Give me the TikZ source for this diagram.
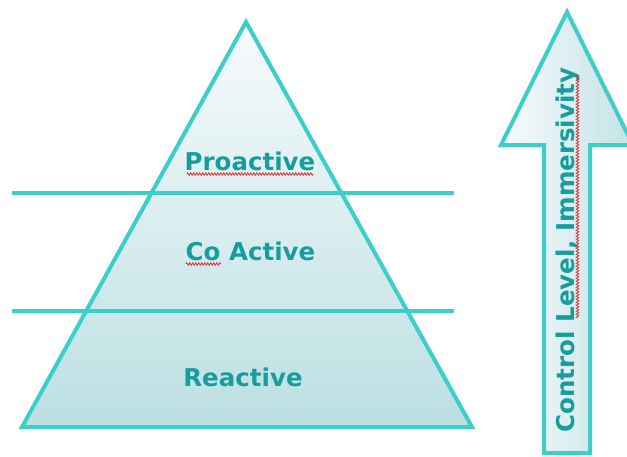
\documentclass[tikz,border=0pt]{standalone}
\usepackage{fontspec}
\setmainfont{DejaVu Sans}
\usetikzlibrary{decorations.pathmorphing}
\definecolor{stroke}{HTML}{3CCEC8}
\definecolor{txt}{HTML}{169E9E}
\definecolor{filltop}{HTML}{F7FBFC}
\definecolor{fillbot}{HTML}{BCDFE2}
\definecolor{arrowright}{HTML}{C4E2E5}
\definecolor{squig}{HTML}{E8302E}
\tikzset{
  shapeline/.style={draw=stroke, line width=4pt, line join=miter},
  lbl/.style={text=txt, font=\bfseries\fontsize{24.5}{28}\selectfont, inner sep=0pt, anchor=base},
  squiggle/.style={draw=squig, line width=0.8pt, decorate, decoration={zigzag, amplitude=1.3pt, segment length=3pt}}
}
\begin{document}
\begin{tikzpicture}[x=1pt, y=-1pt]
\useasboundingbox (0,0) rectangle (627,456);
\clip (0,0) rectangle (627,456);
% pyramid
\path[shapeline, top color=filltop, bottom color=fillbot] (246,22) -- (472,427) -- (22,427) -- cycle;
% level lines
\coordinate (l1a) at (12,193.3);
\coordinate (l1b) at (454,193.3);
\coordinate (l2a) at (12,311);
\coordinate (l2b) at (454,311);
\draw[draw=stroke, line width=4pt] (l1a) -- (l1b);
\draw[draw=stroke, line width=4pt] (l2a) -- (l2b);
% arrow
\path[shapeline, left color=filltop, right color=arrowright]
  (567,12) -- (633,145) -- (590,145) -- (590,453) -- (544,453) -- (544,145) -- (501,145) -- cycle;
% labels
\node[lbl] (pro) at (250,170) {Proactive};
\node[lbl] (co) at (250.5,260) {Co Active};
\node[lbl] (re) at (243,386) {Reactive};
\node[lbl, rotate=90] (ctrl) at (574,250) {Control Level, Immersivity};
% spell-check marks
\draw[squiggle] (187,174) -- (313,174);
\draw[squiggle] (186,264) -- (221,264);
\draw[squiggle] (577.5,318) -- (577.5,75);
\end{tikzpicture}
\end{document}
